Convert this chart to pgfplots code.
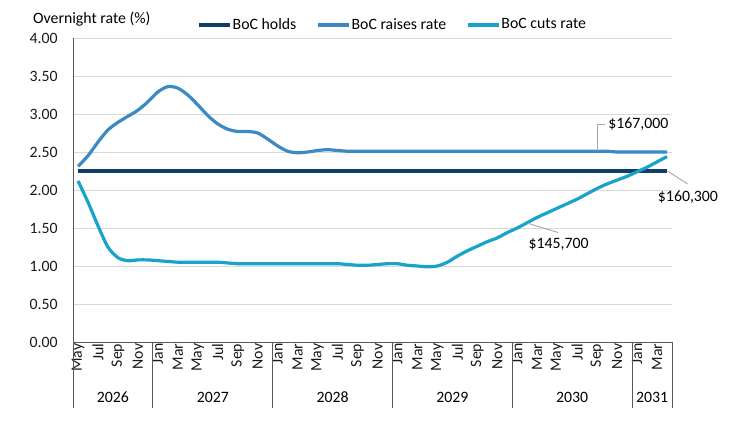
\documentclass[border=0pt]{standalone}
\usepackage{pgfplots}
\pgfplotsset{compat=1.18}
\usepackage{fontspec}
\setmainfont{Carlito}
\definecolor{holds}{RGB}{16,62,104}
\definecolor{raises}{RGB}{59,138,196}
\definecolor{cuts}{RGB}{24,163,202}
\definecolor{axisgray}{RGB}{89,89,89}
\definecolor{gridgray}{RGB}{217,217,217}
\definecolor{leader}{RGB}{166,166,166}
\newcommand{\fs}{\fontsize{15.8bp}{18bp}\selectfont}
\begin{document}
\fs
\begin{tikzpicture}
\useasboundingbox (-73bp,-80bp) rectangle (677bp,342bp);
\begin{axis}[
  at={(0,0)}, anchor=south west, scale only axis,
  width=599bp, height=304bp,
  xmin=-0.5, xmax=59.5, ymin=0, ymax=4,
  axis x line=bottom, axis y line=left,
  axis line style={-, color=axisgray, line width=0.9bp},
  ytick={0,0.5,1,1.5,2,2.5,3,3.5,4},
  ymajorgrids, grid style={color=gridgray, line width=0.9bp},
  major tick length=0pt,
  /pgf/number format/assume math mode=true,
  yticklabel style={/pgf/number format/.cd, fixed, fixed zerofill, precision=2, /tikz/.cd, anchor=east, xshift=-10bp},
  xtick={0,2,...,58},
  xticklabels={May,Jul,Sep,Nov,
    Jan,Mar,May,Jul,Sep,Nov,
    Jan,Mar,May,Jul,Sep,Nov,
    Jan,Mar,May,Jul,Sep,Nov,
    Jan,Mar,May,Jul,Sep,Nov,
    Jan,Mar},
  xticklabel style={rotate=90, anchor=east, inner sep=1.5bp},
  tick label style={font=\fs, color=black!90},
  clip=false,
  legend columns=3,
  legend style={at={(axis description cs:0.533,1.043)}, anchor=center, draw=none, fill=none,
    font=\fs, inner sep=0pt,
    /tikz/every even column/.append style={column sep=19bp},
    nodes={inner sep=1bp}},
  legend image code/.code={\draw[#1] (0bp,0bp) -- (31bp,0bp);},
]
\addplot[holds, line width=3.2bp] coordinates {(0,2.25) (59,2.25)};
\addlegendentry{BoC holds}
\addplot[raises, line width=3.2bp, smooth] coordinates {
(0,2.31) (1,2.45) (2,2.63) (3,2.79) (4,2.89) (5,2.97) (6,3.05) (7,3.16) (8,3.29) (9,3.36)
(10,3.34) (11,3.25) (12,3.12) (13,2.98) (14,2.87) (15,2.80) (16,2.77) (17,2.77) (18,2.75) (19,2.67)
(20,2.58) (21,2.51) (22,2.49) (23,2.50) (24,2.52) (25,2.53) (26,2.52) (27,2.51) (28,2.51) (29,2.51)
(30,2.51) (31,2.51) (32,2.51) (33,2.51) (34,2.51) (35,2.51) (36,2.51) (37,2.51) (38,2.51) (39,2.51)
(40,2.51) (41,2.51) (42,2.51) (43,2.51) (44,2.51) (45,2.51) (46,2.51) (47,2.51) (48,2.51) (49,2.51)
(50,2.51) (51,2.51) (52,2.51) (53,2.51) (54,2.50) (55,2.50) (56,2.50) (57,2.50) (58,2.50) (59,2.50)};
\addlegendentry{BoC raises rate}
\addplot[cuts, line width=3.2bp, smooth] coordinates {
(0,2.12) (1,1.84) (2,1.53) (3,1.25) (4,1.11) (5,1.07) (6,1.08) (7,1.08) (8,1.07) (9,1.06)
(10,1.05) (11,1.05) (12,1.05) (13,1.05) (14,1.05) (15,1.04) (16,1.03) (17,1.03) (18,1.03) (19,1.03)
(20,1.03) (21,1.03) (22,1.03) (23,1.03) (24,1.03) (25,1.03) (26,1.03) (27,1.02) (28,1.01) (29,1.01)
(30,1.02) (31,1.03) (32,1.03) (33,1.01) (34,1.00) (35,0.99) (36,1.00) (37,1.05) (38,1.13) (39,1.20)
(40,1.26) (41,1.32) (42,1.37) (43,1.44) (44,1.50) (45,1.57) (46,1.64) (47,1.70) (48,1.76) (49,1.82)
(50,1.88) (51,1.95) (52,2.02) (53,2.08) (54,2.13) (55,2.18) (56,2.24) (57,2.30) (58,2.37) (59,2.44)};
\addlegendentry{BoC cuts rate}
% year separators
\pgfplotsinvokeforeach{-0.5,7.5,19.5,31.5,43.5,55.5,59.5}{
  \draw[axisgray, line width=0.9bp] (axis cs:#1,0) -- ([yshift=-66bp]axis cs:#1,0);
}
\node at ([yshift=-55bp]axis cs:3.5,0) {2026};
\node at ([yshift=-55bp]axis cs:13.5,0) {2027};
\node at ([yshift=-55bp]axis cs:25.5,0) {2028};
\node at ([yshift=-55bp]axis cs:37.5,0) {2029};
\node at ([yshift=-55bp]axis cs:49.5,0) {2030};
\node at ([yshift=-55bp]axis cs:57.5,0) {2031};
% annotations
\draw[leader, line width=0.9bp] (axis cs:52,2.51) -- (axis cs:52,2.86) -- (axis cs:52.8,2.86);
\node[anchor=west, inner sep=1bp] at (axis cs:53.0,2.86) {\$167,000};
\draw[leader, line width=0.9bp] (axis cs:59.05,2.25) -- (axis cs:61.05,2.08);
\node at (axis cs:61.1,1.91) {\$160,300};
\draw[leader, line width=0.9bp] (axis cs:45.1,1.56) -- (axis cs:48.1,1.44);
\node at (axis cs:48.15,1.28) {\$145,700};
\end{axis}
\node[anchor=base west, inner sep=0pt] at (-40bp,318bp) {Overnight rate (\%)};
\end{tikzpicture}
\end{document}
